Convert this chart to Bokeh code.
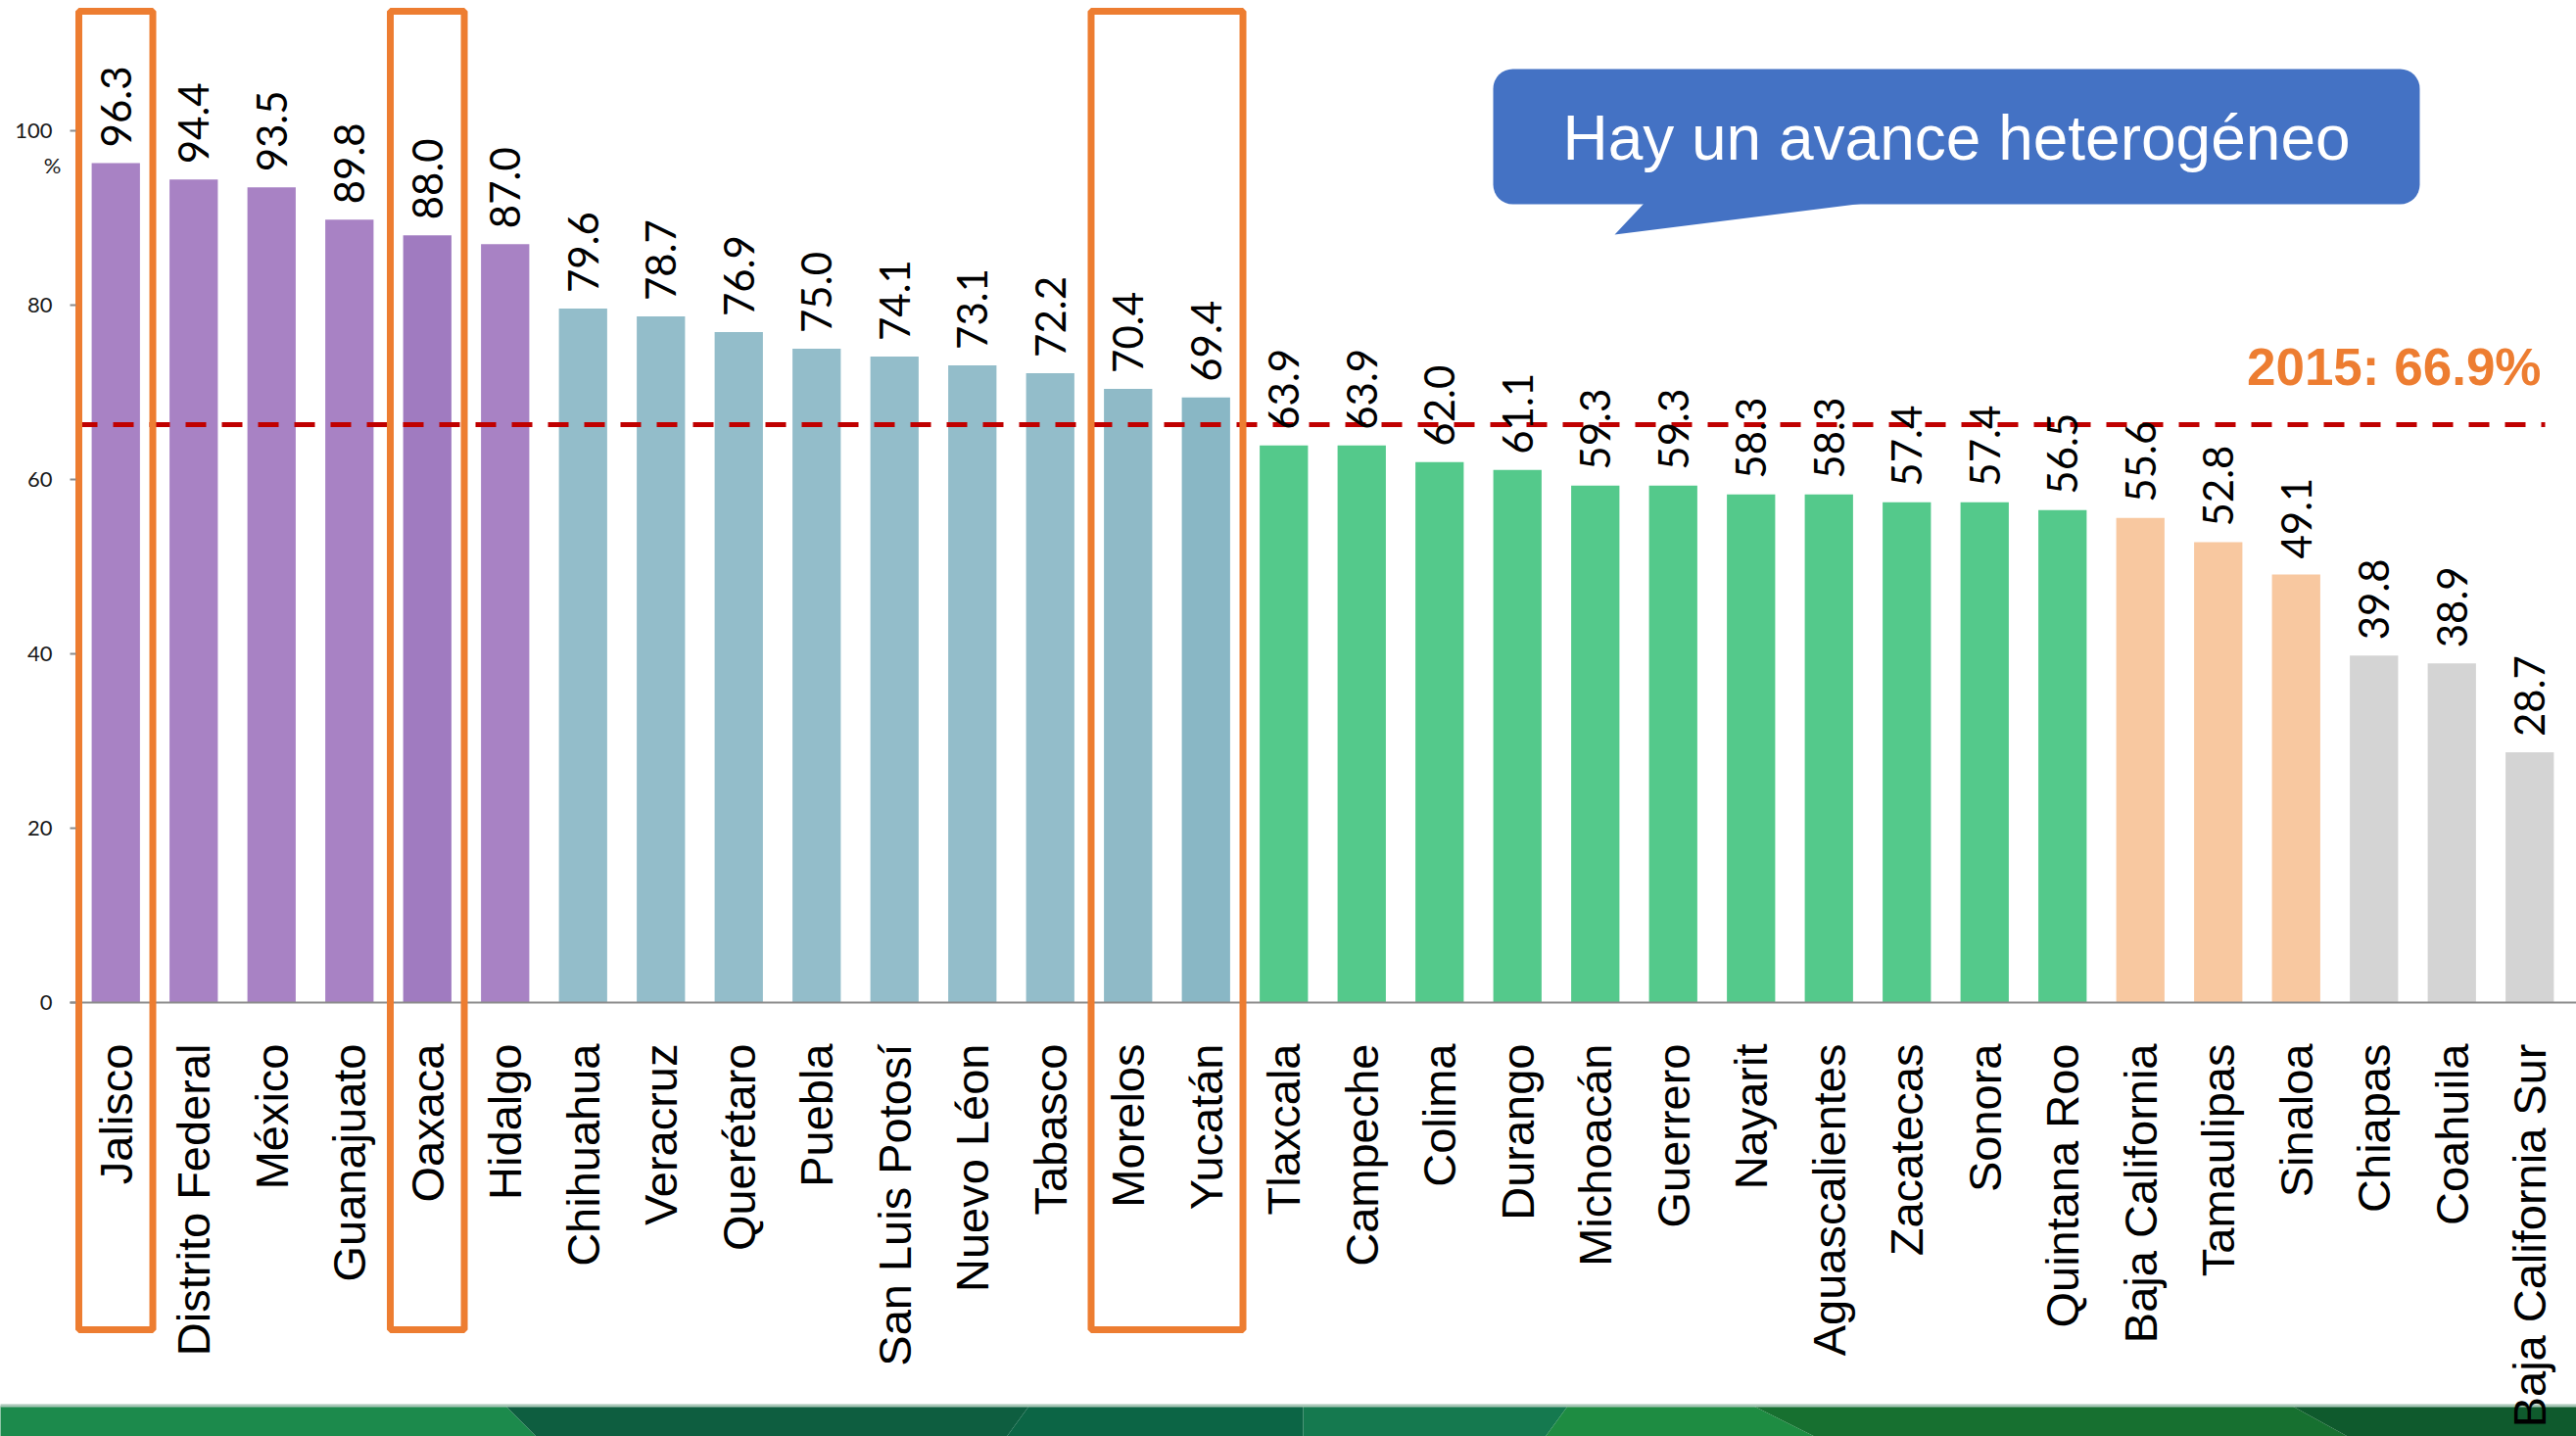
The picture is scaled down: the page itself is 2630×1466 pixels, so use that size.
import math
from bokeh.plotting import figure
from bokeh.models import (Range1d, FixedTicker, Span, Label,
                          BoxAnnotation, PolyAnnotation, ColumnDataSource)
from bokeh.core.properties import value
from bokeh.embed import file_html
from bokeh.resources import INLINE

# ---------------- data ----------------
states = ["Jalisco", "Distrito Federal", "México", "Guanajuato", "Oaxaca", "Hidalgo",
          "Chihuahua", "Veracruz", "Querétaro", "Puebla", "San Luis Potosí", "Nuevo Léon",
          "Tabasco", "Morelos", "Yucatán", "Tlaxcala", "Campeche", "Colima", "Durango",
          "Michoacán", "Guerrero", "Nayarit", "Aguascalientes", "Zacatecas", "Sonora",
          "Quintana Roo", "Baja California", "Tamaulipas", "Sinaloa", "Chiapas", "Coahuila",
          "Baja California Sur"]
values = [96.3, 94.4, 93.5, 89.8, 88.0, 87.0, 79.6, 78.7, 76.9, 75.0, 74.1, 73.1,
          72.2, 70.4, 69.4, 63.9, 63.9, 62.0, 61.1, 59.3, 59.3, 58.3, 58.3, 57.4, 57.4,
          56.5, 55.6, 52.8, 49.1, 39.8, 38.9, 28.7]
groups = (["alto"] * 6 + ["medio"] * 9 + ["bajo"] * 11 + ["muy_bajo"] * 3 + ["critico"] * 3)
highlights = [("Jalisco", "Jalisco"), ("Oaxaca", "Oaxaca"), ("Morelos", "Yucatán")]
y_ticks = [0, 20, 40, 60, 80, 100]
national_line = 66.3
national_text = "2015: 66.9%"
callout_text = "Hay un avance heterogéneo"
unit_text = "%"

# ---------------- styles / layout ----------------
group_colors = {"alto": "#A882C4", "medio": "#93BDCA", "bajo": "#54C98B",
                "muy_bajo": "#F8C8A0", "critico": "#D4D4D4"}
shade_override = {"Oaxaca": "#A07BC0", "Morelos": "#8FBAC7", "Yucatán": "#89B7C5"}
colors = [shade_override.get(s, group_colors[g]) for s, g in zip(states, groups)]
labels = [f"{v:.1f}" for v in values]
xpos = [i + 0.5 for i in range(len(states))]

W, H = 2630, 1466
CAT_LEFT_PX = 78.0
CAT_W = 79.5
ZERO_PX = 1023.0
PX_PER_UNIT = 8.9


def xd(px):
    return (px - CAT_LEFT_PX) / CAT_W


def yd(py):
    return (ZERO_PX - py) / PX_PER_UNIT


src = ColumnDataSource(dict(x=xpos, state=states, value=values, color=colors,
                            label=labels, zero=[0] * len(states)))

p = figure(x_range=Range1d(xd(0), xd(W)), y_range=Range1d(yd(H), yd(0)),
           width=W, height=H, output_backend="svg", toolbar_location=None,
           x_axis_location=None, y_axis_location="left",
           min_border_left=0, min_border_right=0, min_border_top=0, min_border_bottom=0)
p.outline_line_color = None
p.xgrid.visible = False
p.ygrid.visible = False
p.background_fill_color = "white"
p.border_fill_color = "white"

ax = p.yaxis[0]
ax.fixed_location = xd(77)
ax.ticker = FixedTicker(ticks=y_ticks)
ax.axis_line_color = None
ax.major_tick_line_color = "#8C8C8C"
ax.major_tick_line_width = 2
ax.major_tick_out = 6
ax.major_tick_in = 0
ax.minor_tick_line_color = None
ax.major_label_standoff = 18
ax.major_label_text_font = "Lato"
ax.major_label_text_font_size = "22px"
ax.major_label_text_color = "#1A1A1A"

# bottom green band (decoration)
T, B = yd(1435), yd(1490)
band = [
    ([-20, 516, 571, -20], "#1C8A4C"),
    ([516, 1050, 1010, 571], "#0E5E40"),
    ([1050, 1330, 1330, 1010], "#0C6545"),
    ([1330, 1600, 1560, 1330], "#15794F"),
    ([1600, 1790, 1900, 1560], "#1E8C42"),
    ([1790, 2340, 2440, 1900], "#177030"),
    ([2340, 2660, 2660, 2440], "#0F5A2D"),
]
for xs, c in band:
    p.add_layout(PolyAnnotation(xs=[xd(x) for x in xs], ys=[T, T, B, B],
                                fill_color=c, fill_alpha=1, line_color=None, level="underlay"))
p.add_layout(BoxAnnotation(left=xd(-20), right=xd(2660), top=yd(1433), bottom=yd(1436),
                           fill_color="#A9C7B7", fill_alpha=1, line_color=None, level="underlay"))

# bars
p.vbar(x="x", top="value", bottom=0, width=0.62, fill_color="color",
       line_color=None, source=src)

# x axis line
p.segment(x0=xd(71), y0=0, x1=xd(W + 10), y1=0, line_color="#8C8C8C", line_width=2)

# national reference line
p.segment(x0=0, y0=national_line, x1=xd(2598), y1=national_line,
          line_color="#C00000", line_width=5, line_dash="21 16")

# value labels
p.text(x="x", y="value", text="label", angle=math.pi / 2, text_align="left",
       text_baseline="middle", y_offset=-16, text_font=value("Lato"),
       text_font_size="42px", text_color="#000000", source=src)

# category labels
p.text(x="x", y="zero", text="state", angle=math.pi / 2, text_align="right",
       text_baseline="middle", y_offset=42, text_font=value("Liberation Sans"),
       text_font_size="47px", text_color="#000000", source=src)

# highlight boxes
hl_left = [xpos[states.index(a)] - 0.475 for a, b in highlights]
hl_right = [xpos[states.index(b)] + 0.475 for a, b in highlights]
p.quad(left=hl_left, right=hl_right, top=yd(11), bottom=yd(1357),
       fill_color=None, line_color="#ED7D31", line_width=7)

# unit label under the 100 tick
p.add_layout(Label(x=xd(53), y=yd(168), text=unit_text, text_align="center",
                   text_baseline="middle", text_font="Lato", text_font_size="22px",
                   text_color="#1A1A1A"))

# national label
p.add_layout(Label(x=xd(2594), y=yd(374), text=national_text, text_align="right",
                   text_baseline="middle", text_font="Liberation Sans",
                   text_font_style="bold", text_font_size="53px", text_color="#ED7D31"))

# callout
p.add_layout(BoxAnnotation(left=xd(1524), right=xd(2470), top=yd(70), bottom=yd(208),
                           fill_color="#4472C4", fill_alpha=1, line_color=None,
                           border_radius=20))
p.add_layout(PolyAnnotation(xs=[xd(1680), xd(1919), xd(1648)], ys=[yd(205), yd(205), yd(239)],
                            fill_color="#4472C4", fill_alpha=1, line_color=None))
p.add_layout(Label(x=xd(1997), y=yd(140), text=callout_text, text_align="center",
                   text_baseline="middle", text_font="Liberation Sans",
                   text_font_size="64px", text_color="white"))

open("out.html", "w").write(file_html(p, INLINE))
